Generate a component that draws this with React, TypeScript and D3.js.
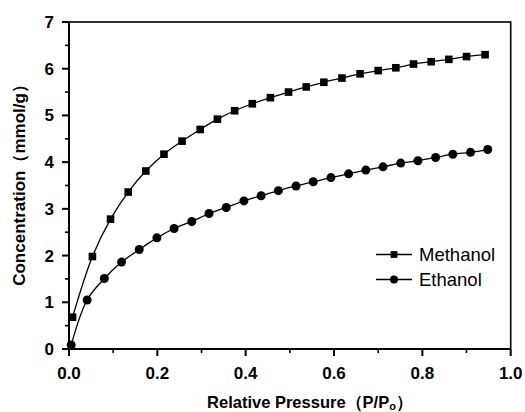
import React from "react";
import * as d3 from "d3";

const methanolX = [0.008, 0.053, 0.094, 0.134, 0.174, 0.215, 0.256, 0.297, 0.336, 0.375, 0.415, 0.456, 0.497, 0.537, 0.577, 0.618, 0.659, 0.700, 0.740, 0.780, 0.820, 0.860, 0.900, 0.942];
const methanolY = [0.68, 1.98, 2.78, 3.36, 3.81, 4.17, 4.45, 4.70, 4.92, 5.10, 5.25, 5.38, 5.50, 5.61, 5.71, 5.80, 5.89, 5.96, 6.02, 6.10, 6.15, 6.20, 6.26, 6.30];
const ethanolX = [0.005, 0.041, 0.080, 0.119, 0.159, 0.199, 0.238, 0.278, 0.317, 0.356, 0.396, 0.435, 0.474, 0.514, 0.553, 0.593, 0.633, 0.672, 0.711, 0.751, 0.790, 0.830, 0.869, 0.909, 0.948];
const ethanolY = [0.086, 1.05, 1.51, 1.86, 2.13, 2.38, 2.58, 2.73, 2.90, 3.03, 3.17, 3.28, 3.39, 3.49, 3.58, 3.67, 3.75, 3.83, 3.90, 3.98, 4.03, 4.10, 4.17, 4.21, 4.27];
const xTicks = [0, 0.2, 0.4, 0.6, 0.8, 1.0];
const xMinor = [0.1, 0.3, 0.5, 0.7, 0.9];
const yTicks = [0, 1, 2, 3, 4, 5, 6, 7];
const yMinor = [0.5, 1.5, 2.5, 3.5, 4.5, 5.5, 6.5];
const seriesNames = ["Methanol", "Ethanol"];

const W = 525, H = 412;
const L = 69, R = 510.7, T = 22, B = 349;
const FONT = "'Liberation Sans', Arial, sans-serif";

export default function App() {
  const x = d3.scaleLinear().domain([0, 1]).range([L, R]);
  const y = d3.scaleLinear().domain([0, 7]).range([B, T]);
  const line = d3.line<[number, number]>().x(d => x(d[0])).y(d => y(d[1])).curve(d3.curveCatmullRom.alpha(0.5));
  const mPts: [number, number][] = methanolX.map((v, i) => [v, methanolY[i]]);
  const ePts: [number, number][] = ethanolX.map((v, i) => [v, ethanolY[i]]);
  const sq = 7.6, cr = 4.5;
  const legX1 = 376, legX2 = 412, legMx = 394;
  const legY = [254.5, 279.5];
  return (
    <svg width={W} height={H} style={{ position: "fixed", left: 0, top: 0, background: "#fff" }} fontFamily={FONT}>
      <rect x={0} y={0} width={W} height={H} fill="#fff" />
      <rect x={L} y={T} width={R - L} height={B - T} fill="none" stroke="#000" strokeWidth={1.6} />
      <line x1={L} x2={L} y1={T} y2={B} stroke="#000" strokeWidth={2} />
      <line x1={L} x2={R} y1={B} y2={B} stroke="#000" strokeWidth={2} />
      {xTicks.map(t => (
        <g key={"xt" + t}>
          <line x1={x(t)} x2={x(t)} y1={B} y2={B + 7} stroke="#000" strokeWidth={2} />
          <text x={x(t)} y={378.5} textAnchor="middle" fontSize={17} fontWeight="bold">{t.toFixed(1)}</text>
        </g>
      ))}
      {xMinor.map(t => (
        <line key={"xm" + t} x1={x(t)} x2={x(t)} y1={B} y2={B + 4} stroke="#000" strokeWidth={1.6} />
      ))}
      {yTicks.map(t => (
        <g key={"yt" + t}>
          <line x1={L - 7} x2={L} y1={y(t)} y2={y(t)} stroke="#000" strokeWidth={2} />
          <text x={54} y={y(t) + 6} textAnchor="end" fontSize={17} fontWeight="bold">{t}</text>
        </g>
      ))}
      {yMinor.map(t => (
        <line key={"ym" + t} x1={L - 4} x2={L} y1={y(t)} y2={y(t)} stroke="#000" strokeWidth={1.6} />
      ))}
      <text x={310} y={408} textAnchor="middle" fontSize={16.5} fontWeight="bold">
        Relative Pressure（P/P<tspan fontSize={11} dy={2}>o</tspan><tspan dy={-2}>）</tspan>
      </text>
      <text transform={`translate(25,${181}) rotate(-90)`} textAnchor="middle" fontSize={17} fontWeight="bold">
        Concentration（mmol/g）
      </text>
      <path d={line(mPts) || ""} fill="none" stroke="#000" strokeWidth={1.3} />
      <path d={line(ePts) || ""} fill="none" stroke="#000" strokeWidth={1.3} />
      {mPts.map((p, i) => (
        <rect key={"m" + i} x={x(p[0]) - sq / 2} y={y(p[1]) - sq / 2} width={sq} height={sq} fill="#000" />
      ))}
      {ePts.map((p, i) => (
        <circle key={"e" + i} cx={x(p[0])} cy={y(p[1])} r={cr} fill="#000" />
      ))}
      {seriesNames.map((n, i) => (
        <g key={n}>
          <line x1={legX1} x2={legX2} y1={legY[i]} y2={legY[i]} stroke="#000" strokeWidth={1.3} />
          {i === 0 ? (
            <rect x={legMx - 3.4} y={legY[i] - 3.4} width={6.8} height={6.8} fill="#000" />
          ) : (
            <circle cx={legMx} cy={legY[i]} r={4} fill="#000" />
          )}
          <text x={419} y={legY[i] + 6.5} fontSize={18.5}>{n}</text>
        </g>
      ))}
    </svg>
  );
}
